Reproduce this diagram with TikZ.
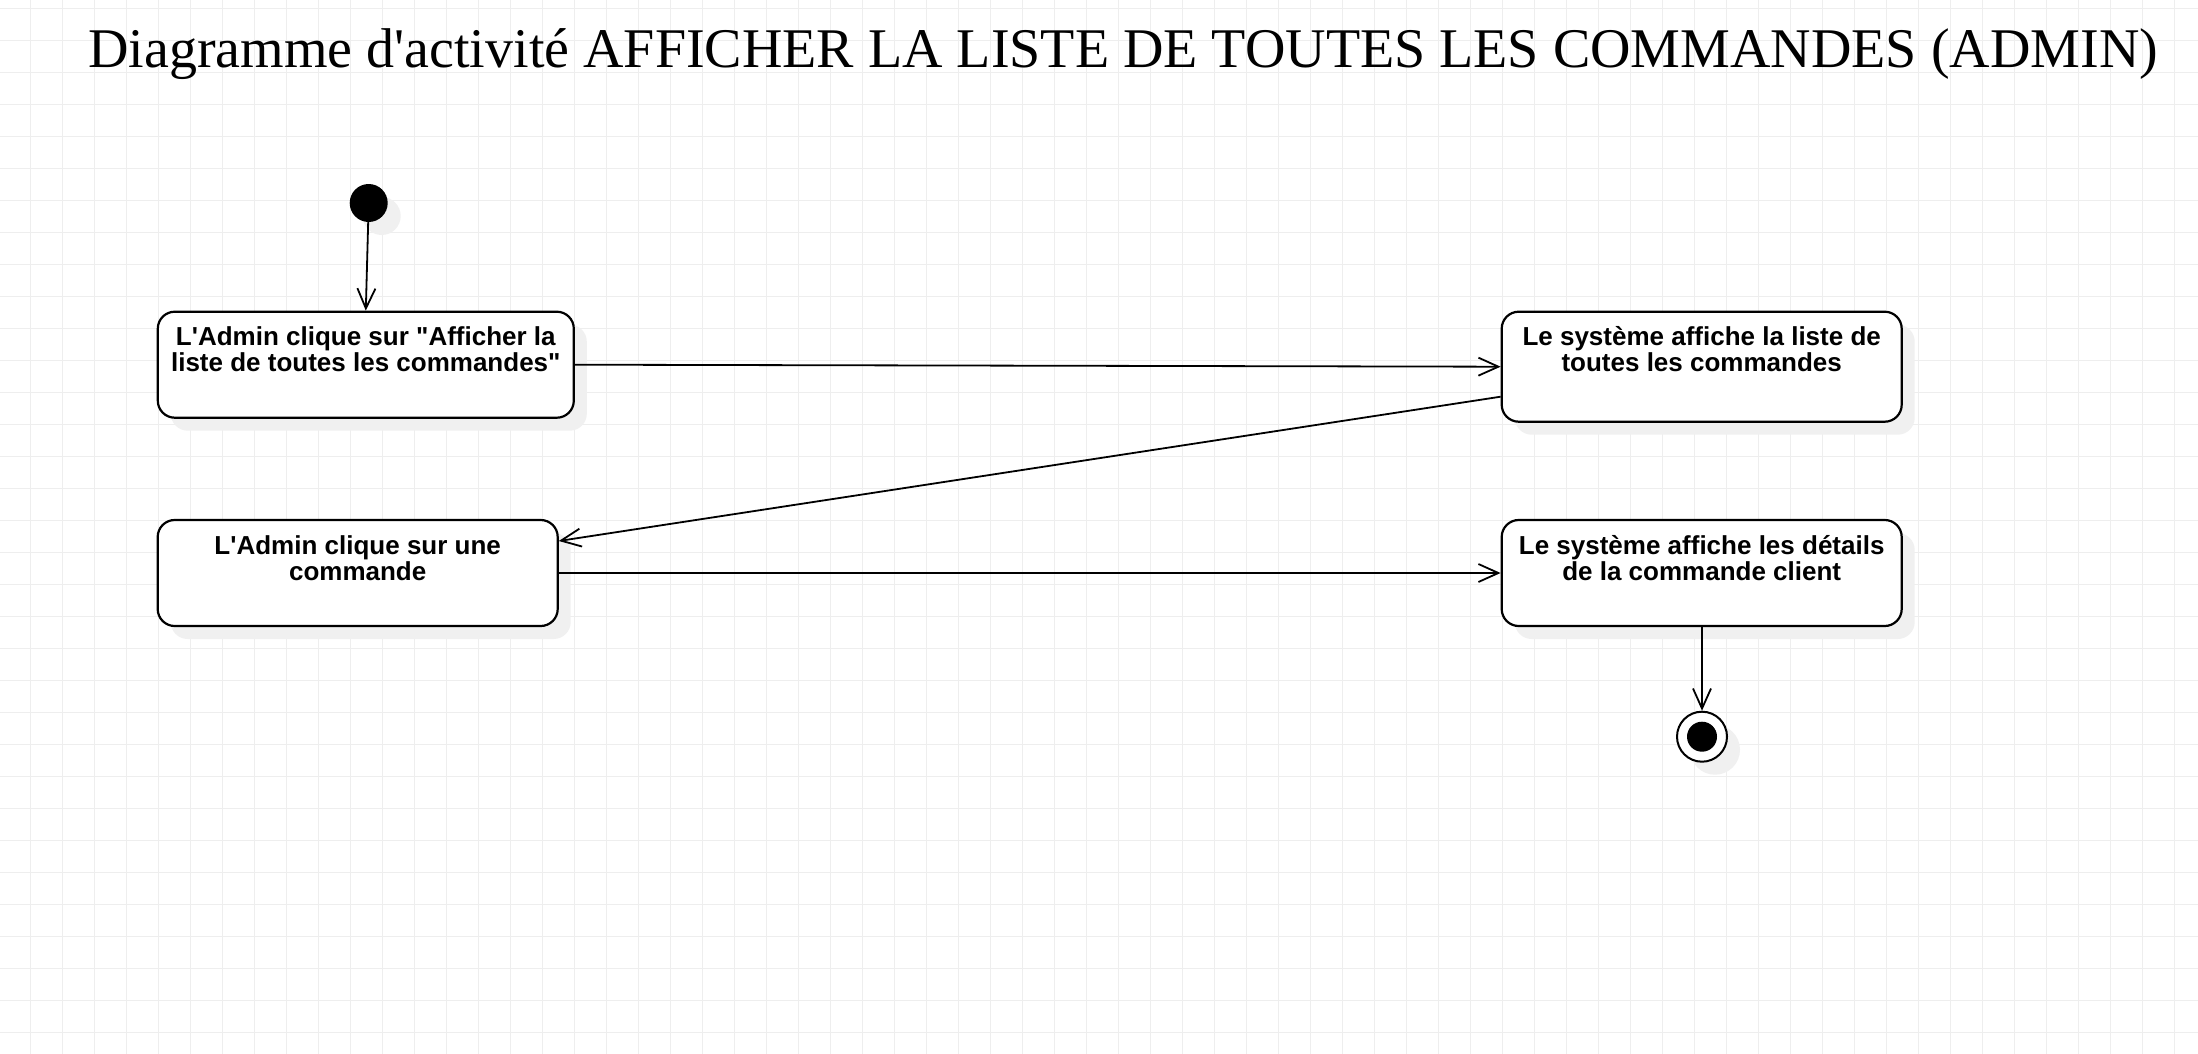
\documentclass[tikz,border=0pt]{standalone}
\usepackage{fontspec}
\setmainfont{Liberation Serif}[Ligatures=TeXOff]
\newfontfamily\boxfont{Liberation Sans}[Ligatures=TeXOff]
\usetikzlibrary{arrows.meta,shadows}
\definecolor{gridc}{RGB}{238,238,238}
\definecolor{shadowc}{RGB}{240,240,240}
\begin{document}
\begin{tikzpicture}[x=1pt,y=-1pt,
  gridline/.style={draw=gridc, line width=1pt},
  shadowed/.style={general shadow={fill=shadowc, draw=none, shadow xshift=13pt, shadow yshift=-13pt}},
  actbox/.style={draw=black, line width=2.2pt, fill=white, rounded corners=17pt, inner sep=0pt, shadowed},
  acttext/.style={inner sep=0pt, anchor=base, font=\boxfont\bfseries\fontsize{26pt}{26.7pt}\selectfont},
  flow/.style={draw=black, line width=1.8pt, -{Straight Barb[length=20pt, width=18pt, line width=1.8pt]}}
]
\useasboundingbox (0,0) rectangle (2198,1054);
\fill[white] (0,0) rectangle (2198,1054);
\foreach \x in {30.5,62.5,...,2198} \draw[gridline] (\x,0) -- (\x,1054);
\foreach \y in {8.5,40.5,...,1054} \draw[gridline] (0,\y) -- (2198,\y);

\node[anchor=base west, inner sep=0pt, font=\fontsize{56pt}{60pt}\selectfont] (title) at (88,68)
  {Diagramme d'activité AFFICHER LA LISTE DE TOUTES LES COMMANDES (ADMIN)};

\node[circle, fill=black, minimum size=38pt, inner sep=0pt, shadowed] (init) at (368.7,203) {};

\node[actbox, minimum width=416pt, minimum height=106pt] (b1) at (365.8,364.7) {};
\node[acttext] (t1) at (365.8,345) {\parbox[t]{416pt}{\centering L'Admin clique sur "Afficher la\\liste de toutes les commandes"}};

\node[actbox, minimum width=400pt, minimum height=110pt] (b2) at (1701.7,366.7) {};
\node[acttext] (t2) at (1701.7,345) {\parbox[t]{400pt}{\centering Le système affiche la liste de\\toutes les commandes}};

\node[actbox, minimum width=400pt, minimum height=106pt] (b3) at (357.7,573) {};
\node[acttext] (t3) at (357.7,554) {\parbox[t]{400pt}{\centering L'Admin clique sur une\\commande}};

\node[actbox, minimum width=400pt, minimum height=106pt] (b4) at (1701.7,573) {};
\node[acttext] (t4) at (1701.7,554) {\parbox[t]{400pt}{\centering Le système affiche les détails\\de la commande client}};

\node[circle, draw=black, line width=2pt, fill=white, minimum size=50pt, inner sep=0pt, shadowed] (final) at (1702,736.7) {};
\node[circle, fill=black, minimum size=30pt, inner sep=0pt] (finaldot) at (final.center) {};

\draw[flow] (init) -- (b1.north);
\draw[flow] (b1.east) -- (b2.west);
\draw[flow] ([yshift=-30pt]b2.west) -- ([yshift=32pt]b3.east);
\draw[flow] (b3.east) -- (b4.west);
\draw[flow] (final.north |- b4.south) -- (final.north);
\end{tikzpicture}
\end{document}
